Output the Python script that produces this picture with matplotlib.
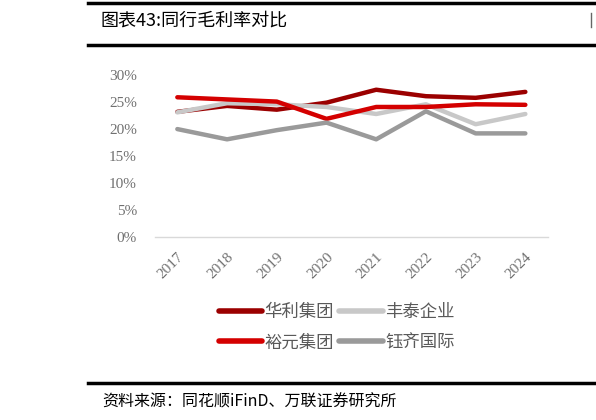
import matplotlib
matplotlib.use("Agg")
import matplotlib.pyplot as plt
from matplotlib.lines import Line2D
from matplotlib.ticker import FuncFormatter

plt.rcParams['font.family'] = ['Noto Sans CJK SC', 'DejaVu Sans']

# data (gross margin, %)
years = ['2017', '2018', '2019', '2020', '2021', '2022', '2023', '2024']
huali = [23.2, 24.3, 23.6, 24.9, 27.3, 26.1, 25.8, 26.9]
fengtai = [23.1, 24.8, 24.6, 24.1, 22.8, 24.6, 20.9, 22.8]
yuyuan = [25.9, 25.5, 25.1, 21.9, 24.1, 24.1, 24.6, 24.5]
yuqi = [20.0, 18.1, 19.8, 21.2, 18.1, 23.3, 19.2, 19.2]

series = [
    ('华利集团', huali, '#9b0000'),
    ('丰泰企业', fengtai, '#c8c8c8'),
    ('裕元集团', yuyuan, '#d40000'),
    ('钰齐国际', yuqi, '#9a9a9a'),
]

fig = plt.figure(figsize=(5.96, 4.2), dpi=100)
ax = fig.add_axes([0.26, 0.436, 0.659, 0.385])

x = range(len(years))
for name, vals, col in series:
    ax.plot(x, vals, color=col, lw=3.2, solid_capstyle='round', label=name)

ax.set_ylim(0, 30)
ax.set_yticks(range(0, 31, 5))
ax.yaxis.set_major_formatter(FuncFormatter(lambda v, p: f'{int(v)}%'))
ax.set_xlim(-0.45, len(years) - 0.55)
ax.set_xticks(list(x))
ax.set_xticklabels(years, rotation=45, ha='right', rotation_mode='anchor')
for lab in ax.get_xticklabels() + ax.get_yticklabels():
    lab.set_family('Liberation Serif')
    lab.set_fontsize(11)
    lab.set_color('#707070')
ax.tick_params(length=0)
ax.tick_params(axis='y', pad=13)
ax.tick_params(axis='x', pad=10)
for s in ['top', 'right', 'left']:
    ax.spines[s].set_visible(False)
ax.spines['bottom'].set_color('#d9d9d9')
ax.spines['bottom'].set_linewidth(1)

# legend filled column-wise: row 1 华利/丰泰, row 2 裕元/钰齐
order = [0, 2, 1, 3]
handles = [Line2D([0], [0], color=series[i][2], lw=4, solid_capstyle='round') for i in order]
labels = [series[i][0] for i in order]
fig.legend(handles, labels, ncol=2, loc='center', bbox_to_anchor=(0.565, 0.221),
           frameon=False, fontsize=12.5, handlelength=2.5, handletextpad=0.15,
           columnspacing=0.3, labelspacing=0.7, labelcolor='#595959')

# title block and rules
fig.add_artist(Line2D([0.148, 1.0], [0.993, 0.993], color='black', lw=2.5))
fig.text(0.168, 0.952, '图表43:同行毛利率对比', fontsize=13, va='center', color='black')
fig.add_artist(Line2D([0.991, 0.991], [0.935, 0.968], color='#666666', lw=1))
fig.add_artist(Line2D([0.148, 1.0], [0.893, 0.893], color='black', lw=2.5))
fig.add_artist(Line2D([0.148, 1.0], [0.088, 0.088], color='black', lw=2.5))
fig.text(0.172, 0.043, '资料来源：同花顺iFinD、万联证券研究所', fontsize=11.5,
         va='center', style='italic', color='black')

fig.savefig('out.png', dpi=100)
